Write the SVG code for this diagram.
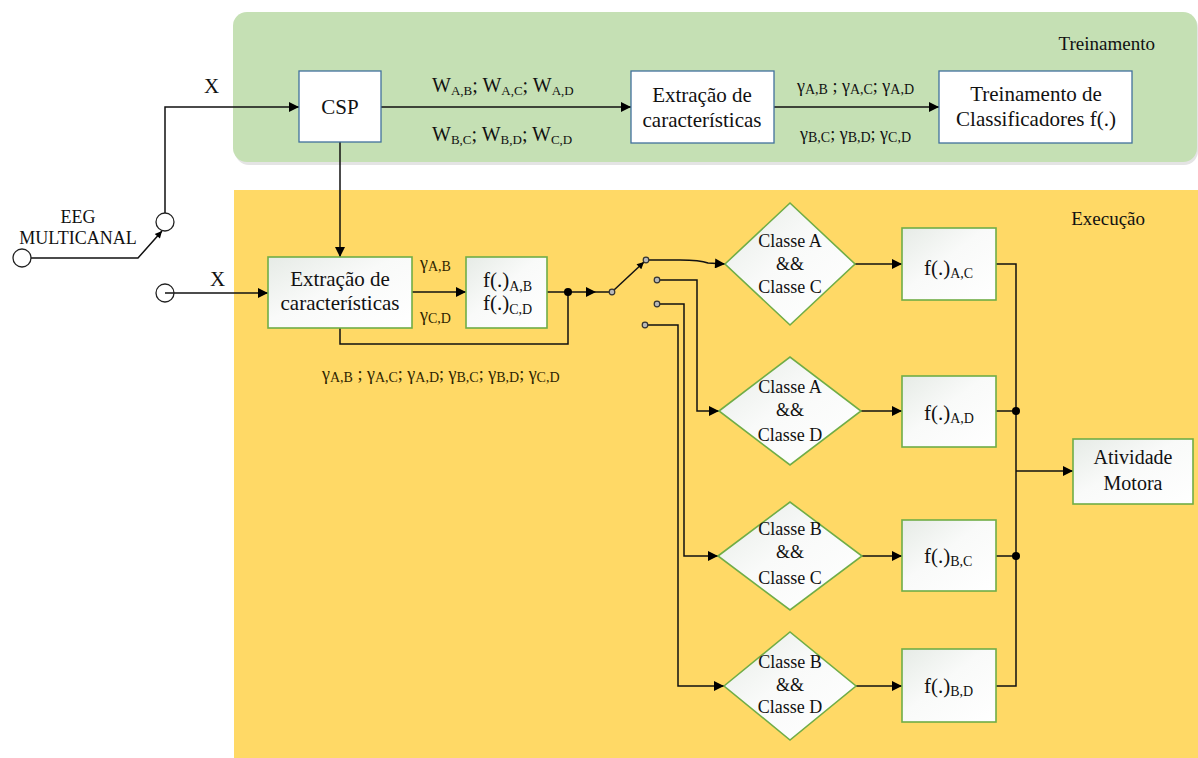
<svg xmlns="http://www.w3.org/2000/svg" width="1198" height="758" viewBox="0 0 1198 758" font-family="'Liberation Serif', 'DejaVu Serif', serif">
  <defs>
    <linearGradient id="boxFill" x1="0" y1="0" x2="1" y2="1">
      <stop offset="0" stop-color="#e6ebe6"/>
      <stop offset="0.45" stop-color="#f9faf9"/>
      <stop offset="1" stop-color="#ffffff"/>
    </linearGradient>
    <marker id="arr" viewBox="0 0 10 10" refX="10" refY="5" markerWidth="12" markerHeight="10" markerUnits="userSpaceOnUse" orient="auto">
      <path d="M0,0 L10,5 L0,10 z" fill="#000"/>
    </marker>
    <marker id="arrS" viewBox="0 0 10 10" refX="10" refY="5" markerWidth="9" markerHeight="7" markerUnits="userSpaceOnUse" orient="auto">
      <path d="M0,0 L10,5 L0,10 z" fill="#000"/>
    </marker>
  </defs>
  <style>
    text{font-family:'Liberation Serif','DejaVu Serif',serif}
    .t{fill:#111}
    .g{fill:#2e2400}
    .bx{fill:#fff;stroke:#41719c;stroke-width:1.3}
    .gx{fill:url(#boxFill);stroke:#70ad47;stroke-width:1.6}
    .w{fill:none;stroke:#111;stroke-width:1.5}
    .a{marker-end:url(#arr)}
    .as{marker-end:url(#arrS)}
    .dot{fill:#000}
    .term{fill:none;stroke:#222;stroke-width:1.3}
    .ct{fill:#b8b8b8;stroke:#333;stroke-width:1.2}
  </style>

  <rect width="1198" height="758" fill="#fff"/>

  <!-- training panel -->
  <g id="panel-treinamento">
    <rect x="235" y="14" width="963" height="151" rx="14" fill="#e4e4e4"/>
    <rect x="233" y="12" width="964" height="150" rx="14" fill="#c5e0b4"/>
    <text class="t" x="1155" y="50" font-size="19" text-anchor="end">Treinamento</text>
  </g>

  <!-- execution panel -->
  <g id="panel-execucao">
    <rect x="234" y="190" width="964" height="568" fill="#ffd966"/>
    <text class="t" x="1145" y="225" font-size="19" text-anchor="end">Execução</text>
  </g>

  <!-- connectors -->
  <g id="connectors">
    <!-- input selector -->
    <path class="w as" d="M31,258 H138 L162,231"/>
    <path class="w a" d="M165,213 V107 H299"/>
    <path class="w a" d="M165,293 H268"/>
    <!-- training chain -->
    <path class="w a" d="M381,107 H631"/>
    <path class="w a" d="M774,107 H939"/>
    <path class="w a" d="M340,142 V257"/>
    <!-- execution chain -->
    <path class="w a" d="M412,292 H466"/>
    <path class="w" d="M547,292 H568"/>
    <path class="w a" d="M568,292 H596"/>
    <path class="w" d="M596,292 H610"/>
    <path class="w" d="M340,328 V344 H568 V292"/>
    <!-- selector switch -->
    <path class="w as" d="M614,290 L644,262"/>
    <path class="w a" d="M649,260 H680 Q700,260 708,263 L725,264"/>
    <path class="w a" d="M660,280 H697 V411 H719"/>
    <path class="w a" d="M660,304 H684 V556 H718"/>
    <path class="w a" d="M648,325 H678 V686 H724"/>
    <!-- decisions to classifiers -->
    <path class="w a" d="M855,264 H902"/>
    <path class="w a" d="M861,411 H902"/>
    <path class="w a" d="M862,556 H902"/>
    <path class="w a" d="M856,686 H902"/>
    <!-- output bus -->
    <path class="w" d="M996,264 H1016 V686 H996"/>
    <path class="w" d="M996,411 H1016"/>
    <path class="w" d="M996,556 H1016"/>
    <path class="w a" d="M1016,471 H1073"/>
    <circle class="dot" cx="568" cy="292" r="4"/>
    <circle class="dot" cx="1016" cy="411" r="4"/>
    <circle class="dot" cx="1016" cy="556" r="4"/>
    <!-- terminals and contacts -->
    <circle class="term" cx="22" cy="258" r="9"/>
    <circle class="term" cx="165" cy="222" r="9"/>
    <circle class="term" cx="165" cy="293" r="9"/>
    <circle class="ct" cx="612" cy="292" r="2.8"/>
    <circle class="ct" cx="646" cy="260" r="2.8"/>
    <circle class="ct" cx="657" cy="280" r="2.8"/>
    <circle class="ct" cx="657" cy="304" r="2.8"/>
    <circle class="ct" cx="645" cy="325" r="2.8"/>
  </g>

  <!-- edge labels -->
  <g id="labels">
    <text class="t" x="78" y="223" font-size="18" text-anchor="middle">EEG</text>
    <text class="t" x="78" y="244" font-size="18" text-anchor="middle">MULTICANAL</text>
    <text class="t" x="204" y="93" font-size="21">X</text>
    <text class="t" x="210" y="286" font-size="21">X</text>
    <text class="t" x="432" y="92" font-size="20">W<tspan font-size="13" dy="3">A,B</tspan><tspan dy="-3">; W</tspan><tspan font-size="13" dy="3">A,C</tspan><tspan dy="-3">; W</tspan><tspan font-size="13" dy="3">A,D</tspan></text>
    <text class="t" x="432" y="141" font-size="20">W<tspan font-size="13" dy="3">B,C</tspan><tspan dy="-3">; W</tspan><tspan font-size="13" dy="3">B,D</tspan><tspan dy="-3">; W</tspan><tspan font-size="13" dy="3">C,D</tspan></text>
    <text class="t" x="797" y="92" font-size="18">γ<tspan font-size="14" dy="2">A,B</tspan><tspan dy="-2"> ; γ</tspan><tspan font-size="14" dy="2">A,C</tspan><tspan dy="-2">; γ</tspan><tspan font-size="14" dy="2">A,D</tspan></text>
    <text class="t" x="800" y="140" font-size="18">γ<tspan font-size="14" dy="2">B,C</tspan><tspan dy="-2">; γ</tspan><tspan font-size="14" dy="2">B,D</tspan><tspan dy="-2">; γ</tspan><tspan font-size="14" dy="2">C,D</tspan></text>
    <text class="t g" x="420" y="269" font-size="18">γ<tspan font-size="14" dy="2">A,B</tspan></text>
    <text class="t g" x="420" y="321" font-size="18">γ<tspan font-size="14" dy="2">C,D</tspan></text>
    <text class="t g" x="322" y="380" font-size="18">γ<tspan font-size="14" dy="2">A,B</tspan><tspan dy="-2"> ; γ</tspan><tspan font-size="14" dy="2">A,C</tspan><tspan dy="-2">; γ</tspan><tspan font-size="14" dy="2">A,D</tspan><tspan dy="-2">; γ</tspan><tspan font-size="14" dy="2">B,C</tspan><tspan dy="-2">; γ</tspan><tspan font-size="14" dy="2">B,D</tspan><tspan dy="-2">; γ</tspan><tspan font-size="14" dy="2">C,D</tspan></text>
  </g>

  <!-- training nodes -->
  <g id="csp">
    <rect class="bx" x="299" y="71" width="82" height="71"/>
    <text class="t" x="340" y="114" font-size="21" text-anchor="middle">CSP</text>
  </g>
  <g id="extracao-treino">
    <rect class="bx" x="631" y="71" width="143" height="72"/>
    <text class="t" x="702" y="102" font-size="21" text-anchor="middle">Extração de</text>
    <text class="t" x="702" y="127" font-size="21" text-anchor="middle">características</text>
  </g>
  <g id="treino-classificadores">
    <rect class="bx" x="939" y="71" width="193" height="72"/>
    <text class="t" x="1036" y="101" font-size="21" text-anchor="middle">Treinamento de</text>
    <text class="t" x="1036" y="126" font-size="21" text-anchor="middle">Classificadores f(.)</text>
  </g>

  <!-- execution nodes -->
  <g id="extracao-exec">
    <rect class="gx" x="268" y="257" width="144" height="71"/>
    <text class="t" x="340" y="286" font-size="21" text-anchor="middle">Extração de</text>
    <text class="t" x="340" y="310" font-size="21" text-anchor="middle">características</text>
  </g>
  <g id="f-ab-cd">
    <rect class="gx" x="466" y="257" width="81" height="71"/>
    <text class="t" x="483" y="287" font-size="21">f(.)<tspan font-size="14" dy="4">A,B</tspan></text>
    <text class="t" x="483" y="310" font-size="21">f(.)<tspan font-size="14" dy="4">C,D</tspan></text>
  </g>

  <g id="classe-ac">
    <polygon class="gx" points="725,264 790,203 855,264 790,325"/>
    <text class="t" x="790" y="247" font-size="18" text-anchor="middle">Classe A</text>
    <text class="t" x="790" y="270" font-size="18" text-anchor="middle">&amp;&amp;</text>
    <text class="t" x="790" y="293" font-size="18" text-anchor="middle">Classe C</text>
  </g>
  <g id="classe-ad">
    <polygon class="gx" points="719,411 790,357 861,411 790,465"/>
    <text class="t" x="790" y="393" font-size="18" text-anchor="middle">Classe A</text>
    <text class="t" x="790" y="416" font-size="18" text-anchor="middle">&amp;&amp;</text>
    <text class="t" x="790" y="441" font-size="18" text-anchor="middle">Classe D</text>
  </g>
  <g id="classe-bc">
    <polygon class="gx" points="718,556 790,502 862,556 790,610"/>
    <text class="t" x="790" y="535" font-size="18" text-anchor="middle">Classe B</text>
    <text class="t" x="790" y="558" font-size="18" text-anchor="middle">&amp;&amp;</text>
    <text class="t" x="790" y="584" font-size="18" text-anchor="middle">Classe C</text>
  </g>
  <g id="classe-bd">
    <polygon class="gx" points="724,686 790,632 856,686 790,740"/>
    <text class="t" x="790" y="668" font-size="18" text-anchor="middle">Classe B</text>
    <text class="t" x="790" y="691" font-size="18" text-anchor="middle">&amp;&amp;</text>
    <text class="t" x="790" y="713" font-size="18" text-anchor="middle">Classe D</text>
  </g>

  <g id="f-ac">
    <rect class="gx" x="902" y="228" width="94" height="72"/>
    <text class="t" x="924" y="275" font-size="21">f(.)<tspan font-size="14" dy="3">A,C</tspan></text>
  </g>
  <g id="f-ad">
    <rect class="gx" x="902" y="376" width="94" height="71"/>
    <text class="t" x="924" y="420" font-size="21">f(.)<tspan font-size="14" dy="3">A,D</tspan></text>
  </g>
  <g id="f-bc">
    <rect class="gx" x="902" y="520" width="94" height="71"/>
    <text class="t" x="924" y="563" font-size="21">f(.)<tspan font-size="14" dy="3">B,C</tspan></text>
  </g>
  <g id="f-bd">
    <rect class="gx" x="902" y="649" width="94" height="73"/>
    <text class="t" x="924" y="693" font-size="21">f(.)<tspan font-size="14" dy="3">B,D</tspan></text>
  </g>

  <g id="atividade-motora">
    <rect class="gx" x="1073" y="439" width="120" height="65"/>
    <text class="t" x="1133" y="464" font-size="20" text-anchor="middle">Atividade</text>
    <text class="t" x="1133" y="490" font-size="20" text-anchor="middle">Motora</text>
  </g>
</svg>
